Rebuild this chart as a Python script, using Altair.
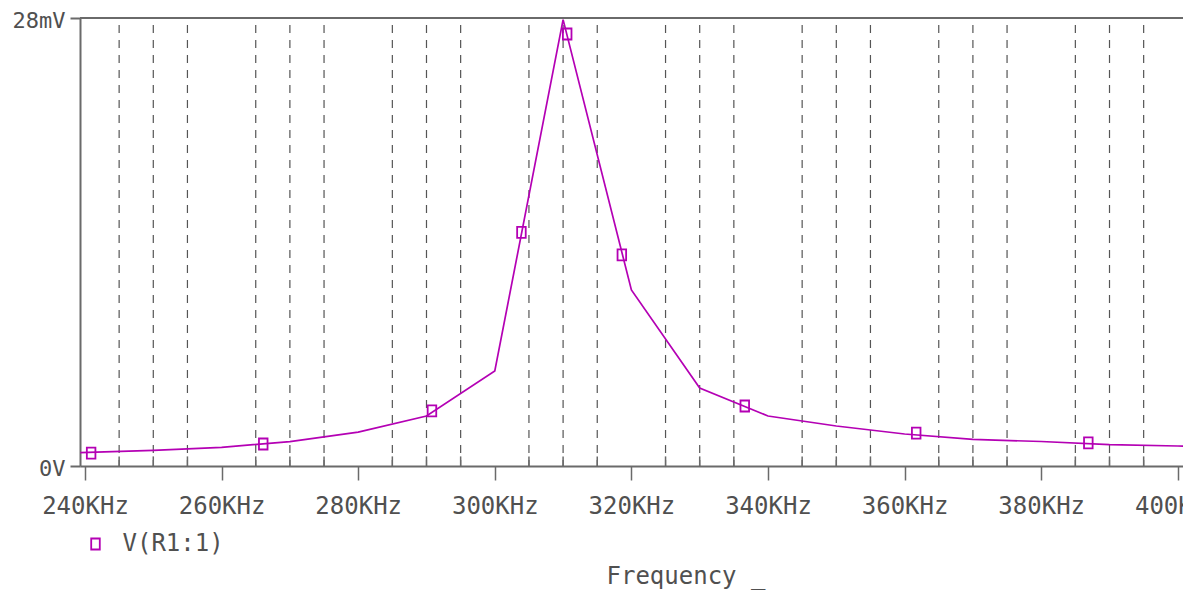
import altair as alt
import pandas as pd

# ---- data ----
freq_khz = [239.3, 250, 260, 270, 280, 290, 300, 310, 320, 330, 340, 350, 360, 370, 380, 390, 400, 400.8]
volt_mv = [0.83, 0.98, 1.17, 1.52, 2.12, 3.12, 5.94, 27.9, 11.0, 4.875, 3.125, 2.5, 2.0, 1.66, 1.53, 1.34, 1.25, 1.24]

marker_freq = [240.9, 266.1, 290.8, 303.9, 310.6, 318.6, 336.6, 361.7, 386.9]
marker_mv = [0.81, 1.375, 3.44, 14.6, 27.0, 13.2, 3.75, 2.06, 1.44]

major_ticks = [240, 260, 280, 300, 320, 340, 360, 380, 400]
minor_ticks = [245, 250, 255, 265, 270, 275, 285, 290, 295, 305, 310, 315,
               325, 330, 335, 345, 350, 355, 365, 370, 375, 385, 390, 395]
y_ticks = [0, 28]
series_name = "V(R1:1)"

# ---- styling ----
FONT = "DejaVu Sans Mono"
TXT = "#505050"
AX = "#6a6a6a"
MAG = "#b400b4"
W, H = 1103, 448
MARK_PATH = "M-0.78,-1L0.78,-1L0.78,1L-0.78,1Z"

line_df = pd.DataFrame({"f": freq_khz, "v": volt_mv})
mark_df = pd.DataFrame({"f": marker_freq, "v": marker_mv, "s": [series_name] * len(marker_freq)})
grid_df = pd.DataFrame({"f": minor_ticks})
mtick_df = pd.DataFrame({"f": minor_ticks, "v": [0.0] * len(minor_ticks), "v2": [0.6] * len(minor_ticks)})
top_df = pd.DataFrame({"v": [28]})

x_axis = alt.Axis(
    values=major_ticks, labelExpr="datum.value + 'KHz'", grid=False,
    tickSize=14, tickColor=AX, tickWidth=1.5, domainColor=AX, domainWidth=2,
    labelFont=FONT, labelFontSize=24, labelColor=TXT, labelPadding=33,
    labelBaseline="alphabetic", labelFlush=False,
    title="Frequency _", titleFont=FONT, titleFontSize=24, titleFontWeight="normal",
    titleColor=TXT, titleX=526, titleY=117, titleAlign="left", titleBaseline="alphabetic",
)
y_axis = alt.Axis(
    values=y_ticks, labelExpr="datum.value == 0 ? '0V' : datum.value + 'mV'", grid=False,
    tickSize=10, tickColor=AX, tickWidth=2, domainColor=AX, domainWidth=2,
    labelFont=FONT, labelFontSize=22, labelColor=TXT, labelPadding=5, labelOffset=2,
    labelBaseline="middle", labelFlush=False, title=None,
)
x_scale = alt.Scale(domain=[239.27, 400.76], nice=False, zero=False)
y_scale = alt.Scale(domain=[0, 28], nice=False, zero=False)

x_enc = alt.X("f:Q", scale=x_scale, axis=x_axis)
y_enc = alt.Y("v:Q", scale=y_scale, axis=y_axis)

grid = alt.Chart(grid_df).mark_rule(
    color="#555555", strokeWidth=1.2, strokeDash=[8, 7], strokeDashOffset=8
).encode(x=x_enc)

minor = alt.Chart(mtick_df).mark_rule(color=AX, strokeWidth=1.5).encode(
    x=x_enc, y=y_enc, y2=alt.Y2("v2:Q")
)

top_line = alt.Chart(top_df).mark_rule(color=AX, strokeWidth=2).encode(y=y_enc)

curve = alt.Chart(line_df).mark_line(color=MAG, strokeWidth=1.7, clip=True).encode(
    x=x_enc, y=y_enc
)

markers = alt.Chart(mark_df).mark_point(
    shape=MARK_PATH, filled=False, size=121, strokeWidth=1.8, opacity=1
).encode(
    x=x_enc, y=y_enc,
    color=alt.Color(
        "s:N",
        scale=alt.Scale(domain=[series_name], range=[MAG]),
        legend=alt.Legend(
            orient="none", legendX=3.5, legendY=514, title=None, padding=0,
            symbolType=MARK_PATH, symbolSize=121, symbolStrokeWidth=1.8,
            labelFont=FONT, labelFontSize=24, labelColor=TXT, labelOffset=15,
        ),
    ),
)

chart = alt.layer(grid, minor, top_line, curve, markers).properties(
    width=W, height=H,
    autosize=alt.AutoSizeParams(type="none"),
    padding={"left": 72, "top": 10, "right": 0, "bottom": 125},
    background="white",
).configure_view(strokeWidth=0)

chart.save("out.html", embed_options={"renderer": "svg", "actions": False})
